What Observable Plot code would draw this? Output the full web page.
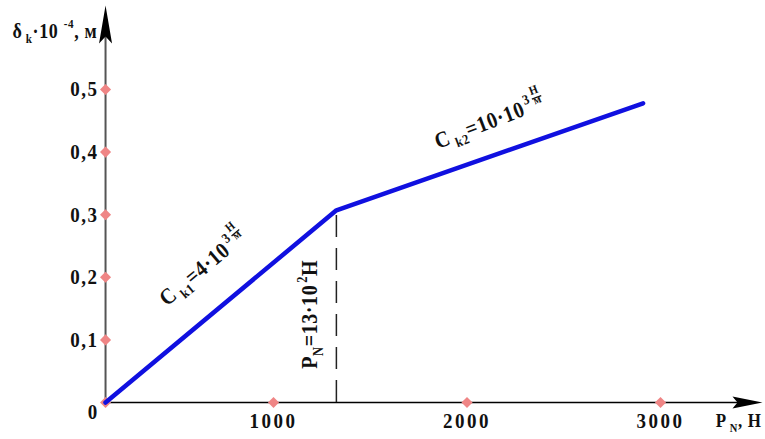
<!DOCTYPE html>
<html><head><meta charset="utf-8">
<script src="https://cdn.jsdelivr.net/npm/d3@7"></script>
<script src="https://cdn.jsdelivr.net/npm/@observablehq/plot@0.6"></script>
<style>
body{margin:0;background:#fff}
svg{display:block}
g[aria-description="x labels"] text{letter-spacing:2.5px}
g[aria-description="y labels"] text{letter-spacing:1.5px}
g[aria-description="annotations"] text{letter-spacing:0.6px}
</style>
</head><body><div id="chart"></div>
<script>
// ---- data ----
const loadN = [132, 1325, 2910];          // P_N, Н
const deflection = [0, 0.307, 0.478];     // δk·10^-4, м
const xTicks = [1000, 2000, 3000];
const xTickLabels = ["1000", "2000", "3000"];
const yTicks = [0, 0.1, 0.2, 0.3, 0.4, 0.5];
const yTickLabels = ["0", "0,1", "0,2", "0,3", "0,4", "0,5"];
const kneeLoad = 1325;
const kneeDeflection = 0.307;
const axisOriginX = 132;

// annotation texts (rich text parts)
const annotations = [
  {x: 450, y: 0.153, rotate: -40, size: 20,
   parts: [["C"], [" k1", "sub"], ["=4·10"], ["3", "sup"]], frac: ["Н", "м"]},
  {x: 1850, y: 0.405, rotate: -21, size: 20,
   parts: [["C"], [" k2", "sub"], ["=10·10"], ["3", "sup"]], frac: ["Н", "м"]},
  {x: 1227, y: 0.054, rotate: -90, size: 20,
   parts: [["P"], ["N", "sub"], ["=13·10"], ["2", "sup"], ["Н"]]},
  {x: -349, y: 0.583, rotate: 0, size: 18,
   parts: [["δ"], [" k", "sub"], ["·10"], [" -4", "sup"], [", м"]]},
  {x: 3285, y: -0.039, rotate: 0, size: 17,
   parts: [["P"], [" N", "sub"], [", Н"]]}
];

const curve = loadN.map((v, i) => ({x: v, y: deflection[i]}));
const xTickData = xTicks.map((v, i) => ({v, label: xTickLabels[i]}));
const yTickData = yTicks.map((v, i) => ({v, label: yTickLabels[i]}));

const arrowUp = {draw(ctx, size) {
  const s = Math.sqrt(size / Math.PI) / 10;
  ctx.moveTo(0, 0); ctx.lineTo(6.5 * s, 38 * s); ctx.lineTo(0, 31 * s);
  ctx.lineTo(-6.5 * s, 38 * s); ctx.closePath();
}};
const arrowRight = {draw(ctx, size) {
  const s = Math.sqrt(size / Math.PI) / 10;
  ctx.moveTo(0, 0); ctx.lineTo(-30 * s, -6 * s); ctx.lineTo(-25 * s, 0);
  ctx.lineTo(-30 * s, 6 * s); ctx.closePath();
}};

const font = "'Liberation Serif', 'Times New Roman', serif";
const pink = "#ef8585";

const svg = Plot.plot({
  width: 765, height: 439, margin: 0,
  x: {domain: [0, 3000], range: [79.5, 660], axis: null},
  y: {domain: [0, 0.5], range: [402, 89], axis: null},
  style: {fontFamily: font, fontWeight: "bold", background: "#fff", color: "#000"},
  marks: [
    Plot.ruleX([axisOriginX], {y1: 0, y2: 0.6, stroke: "#555", strokeWidth: 2}),
    Plot.ruleY([0], {x1: axisOriginX, x2: 3450, stroke: "#000", strokeWidth: 1.5}),
    Plot.dot([{x: axisOriginX, y: 0.634}], {x: "x", y: "y", r: 10, symbol: arrowUp, fill: "#000", stroke: "none"}),
    Plot.dot([{x: 3527, y: 0}], {x: "x", y: "y", r: 10, symbol: arrowRight, fill: "#000", stroke: "none"}),
    Plot.ruleX([kneeLoad], {y1: 0, y2: kneeDeflection, stroke: "#222", strokeWidth: 1.5, strokeDasharray: "22,11"}),
    Plot.dot(xTickData, {x: "v", y: 0, symbol: "diamond2", r: 5, fill: pink, stroke: "none"}),
    Plot.dot(yTickData, {x: axisOriginX, y: "v", symbol: "diamond2", r: 5, fill: pink, stroke: "none"}),
    Plot.line(curve, {x: "x", y: "y", stroke: "#1010e0", strokeWidth: 4.5, strokeLinecap: "round", strokeLinejoin: "round"}),
    Plot.text(xTickData, {x: "v", y: 0, text: "label", dy: 19, fontSize: 19, fill: "#111", ariaDescription: "x labels"}),
    Plot.text(yTickData.filter(d => d.v > 0), {x: axisOriginX, y: "v", text: "label", dx: -7, textAnchor: "end", fontSize: 19, fill: "#111", ariaDescription: "y labels"}),
    Plot.text(yTickData.filter(d => d.v === 0), {x: axisOriginX, y: "v", text: "label", dx: -13, dy: 10, fontSize: 19, fill: "#111", ariaDescription: "origin label"}),
    Plot.text(annotations, {x: "x", y: "y", rotate: "rotate", text: d => d.parts.map(p => p[0]).join(""), textAnchor: "start", lineAnchor: "bottom", fontSize: 20, fill: "#111", ariaDescription: "annotations"})
  ]
});
document.getElementById("chart").append(svg);

// rich text: subscripts, superscripts, fractions
const NS = "http://www.w3.org/2000/svg";
svg.querySelectorAll('g[aria-description="annotations"] text').forEach((t, i) => {
  const a = annotations[i];
  const f = a.size;
  t.textContent = "";
  t.removeAttribute("y");
  t.setAttribute("font-size", f);
  let shift = 0;
  for (const [txt, kind] of a.parts) {
    const ts = document.createElementNS(NS, "tspan");
    const target = kind === "sub" ? f * 0.25 : kind === "sup" ? -f * 0.45 : 0;
    ts.setAttribute("dy", target - shift);
    if (kind === "sup") ts.setAttribute("dx", 2);
    shift = target;
    if (kind) ts.setAttribute("font-size", f * 0.62);
    ts.textContent = txt;
    t.appendChild(ts);
  }
  if (a.frac) {
    const bb = t.getBBox();
    const x0 = bb.x + bb.width + 2;
    const w = f * 0.5;
    const g = document.createElementNS(NS, "g");
    g.setAttribute("transform", t.getAttribute("transform"));
    g.setAttribute("fill", "#111");
    g.setAttribute("font-size", f * 0.55);
    const top = document.createElementNS(NS, "text");
    top.setAttribute("x", x0 + w / 2); top.setAttribute("y", -f * 0.76);
    top.setAttribute("text-anchor", "middle"); top.textContent = a.frac[0];
    const bar = document.createElementNS(NS, "line");
    bar.setAttribute("x1", x0); bar.setAttribute("x2", x0 + w);
    bar.setAttribute("y1", -f * 0.64); bar.setAttribute("y2", -f * 0.64);
    bar.setAttribute("stroke", "#111"); bar.setAttribute("stroke-width", 1.3);
    const bot = document.createElementNS(NS, "text");
    bot.setAttribute("x", x0 + w / 2); bot.setAttribute("y", -f * 0.3);
    bot.setAttribute("text-anchor", "middle"); bot.textContent = a.frac[1];
    g.append(top, bar, bot);
    t.parentNode.appendChild(g);
  }
});
// taller, Times-like glyph proportions as in the reference
svg.querySelectorAll("text").forEach(t => {
  const tr = t.getAttribute("transform") || "";
  t.setAttribute("transform", tr + " scale(1,1.12)");
});
</script>
</body></html>
